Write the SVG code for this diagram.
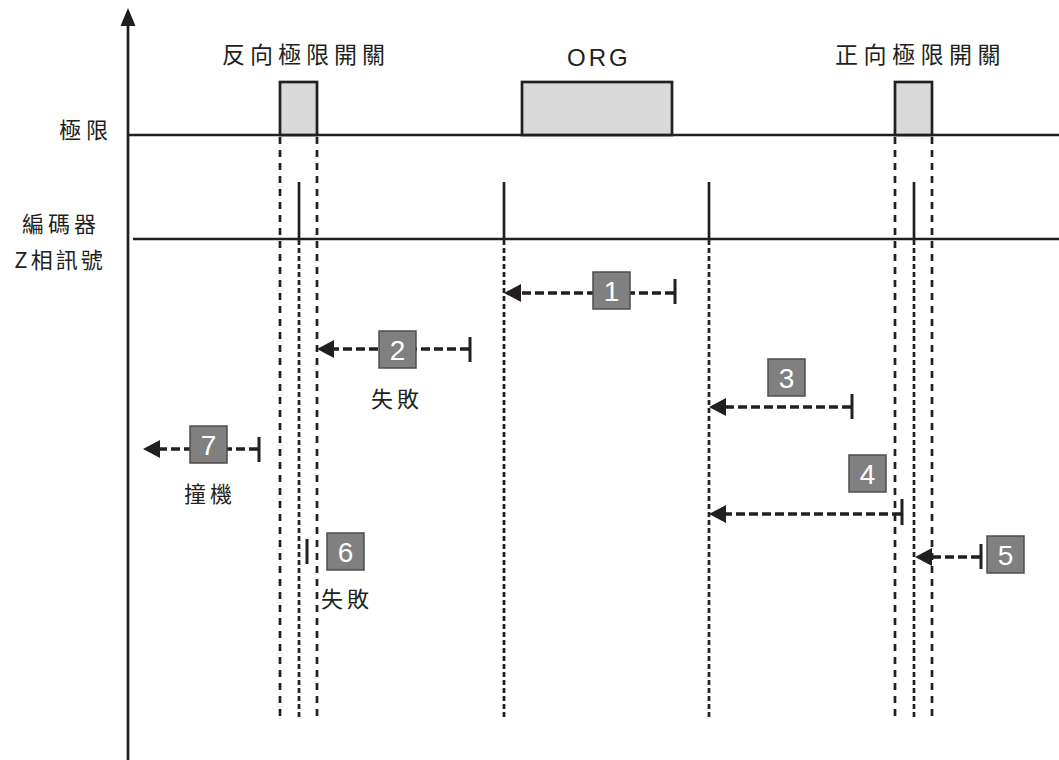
<svg xmlns="http://www.w3.org/2000/svg" width="1059" height="760" viewBox="0 0 1059 760">
<style>
.ln{stroke:#231f20;stroke-width:2.7;fill:none}
.dotA{stroke:#231f20;stroke-width:2.7;stroke-dasharray:7 6;fill:none}
.dotB{stroke:#231f20;stroke-width:2.7;stroke-dasharray:5 3;fill:none}
.sig{fill:#d9d9d9;stroke:#231f20;stroke-width:2.7}
.arr{stroke:#231f20;stroke-width:3.5;stroke-dasharray:9 4;fill:none}
.bar{stroke:#231f20;stroke-width:3;fill:none}
.head{fill:#231f20}
.box{fill:#808080;stroke:#4d4d4d;stroke-width:1.5}
.num{font-family:"Liberation Sans",Arial,sans-serif;font-size:28px;fill:#ffffff;text-anchor:middle}
.cjk{font-family:"Noto Sans CJK TC","Noto Sans CJK SC",sans-serif;fill:#231f20}
.lat{font-family:"Liberation Sans",Arial,sans-serif;fill:#231f20}
</style>
<g id="axis">
<line class="ln" x1="128" y1="24" x2="128" y2="760"/>
<polygon class="head" points="128,8 120.5,26 135.5,26"/>
</g>
<g id="labels">
<text class="cjk" x="113" y="138" font-size="22" letter-spacing="5" text-anchor="end">極限</text>
<text class="cjk" x="61" y="232" font-size="22" letter-spacing="4" text-anchor="middle">編碼器</text>
<text class="cjk" x="60" y="268" font-size="22" letter-spacing="3" text-anchor="middle">Z相訊號</text>
<text class="cjk" x="222" y="63" font-size="23" letter-spacing="5">反向極限開關</text>
<text class="lat" x="567" y="66" font-size="24" letter-spacing="3">ORG</text>
<text class="cjk" x="835" y="63" font-size="23" letter-spacing="5.5">正向極限開關</text>
</g>
<g id="limit-signal">
<line class="ln" x1="128" y1="135" x2="1059" y2="135"/>
<rect class="sig" x="280" y="82" width="37" height="53"/>
<rect class="sig" x="522" y="82" width="150" height="53"/>
<rect class="sig" x="895" y="82" width="37" height="53"/>
</g>
<g id="z-signal">
<line class="ln" x1="133" y1="239" x2="1059" y2="239"/>
<line class="ln" x1="299" y1="182" x2="299" y2="239"/>
<line class="ln" x1="504" y1="182" x2="504" y2="239"/>
<line class="ln" x1="709" y1="182" x2="709" y2="239"/>
<line class="ln" x1="914" y1="182" x2="914" y2="239"/>
</g>
<g id="guides">
<line class="dotA" x1="280" y1="137" x2="280" y2="718"/>
<line class="dotA" x1="317" y1="137" x2="317" y2="718"/>
<line class="dotA" x1="895" y1="137" x2="895" y2="718"/>
<line class="dotA" x1="932" y1="137" x2="932" y2="718"/>
<line class="dotB" x1="299" y1="240" x2="299" y2="718"/>
<line class="dotB" x1="504" y1="240" x2="504" y2="718"/>
<line class="dotB" x1="709" y1="240" x2="709" y2="718"/>
<line class="dotB" x1="914" y1="240" x2="914" y2="718"/>
</g>
<g id="connectors">
<line class="arr" x1="674" y1="293" x2="519" y2="293"/>
<polygon class="head" points="504,293 521,284 521,302"/>
<line class="bar" x1="675" y1="279" x2="675" y2="304"/>
<line class="arr" x1="469" y1="349" x2="332" y2="349"/>
<polygon class="head" points="317,349 334,340 334,358"/>
<line class="bar" x1="470" y1="337" x2="470" y2="362"/>
<line class="arr" x1="851" y1="407" x2="724" y2="407"/>
<polygon class="head" points="709,407 726,398 726,416"/>
<line class="bar" x1="852" y1="394" x2="852" y2="419"/>
<line class="arr" x1="901" y1="514" x2="724" y2="514"/>
<polygon class="head" points="709,514 726,505 726,523"/>
<line class="bar" x1="902" y1="499" x2="902" y2="525"/>
<line class="arr" x1="980" y1="557" x2="930" y2="557"/>
<polygon class="head" points="915,557 932,548 932,566"/>
<line class="bar" x1="981" y1="544" x2="981" y2="569"/>
<line class="bar" x1="307" y1="539" x2="307" y2="564"/>
<line class="arr" x1="258" y1="449" x2="158" y2="449"/>
<polygon class="head" points="143,449 160,440 160,458"/>
<line class="bar" x1="259" y1="437" x2="259" y2="462"/>
</g>
<g id="step1"><rect class="box" x="593" y="272" width="37" height="37"/><text class="num" x="611.5" y="301">1</text></g>
<g id="step2"><rect class="box" x="379" y="331" width="37" height="37"/><text class="num" x="397.5" y="360">2</text>
<text class="cjk" x="397" y="407" font-size="22" letter-spacing="4" text-anchor="middle">失敗</text></g>
<g id="step3"><rect class="box" x="768" y="359" width="37" height="37"/><text class="num" x="786.5" y="388">3</text></g>
<g id="step4"><rect class="box" x="849" y="455" width="37" height="37"/><text class="num" x="867.5" y="484">4</text></g>
<g id="step5"><rect class="box" x="987" y="536" width="37" height="37"/><text class="num" x="1005.5" y="565">5</text></g>
<g id="step6"><rect class="box" x="327" y="533" width="37" height="37"/><text class="num" x="345.5" y="562">6</text>
<text class="cjk" x="321" y="607" font-size="22" letter-spacing="4">失敗</text></g>
<g id="step7"><rect class="box" x="190" y="426" width="37" height="37"/><text class="num" x="208.5" y="455">7</text>
<text class="cjk" x="210" y="502" font-size="22" letter-spacing="4" text-anchor="middle">撞機</text></g>
</svg>
